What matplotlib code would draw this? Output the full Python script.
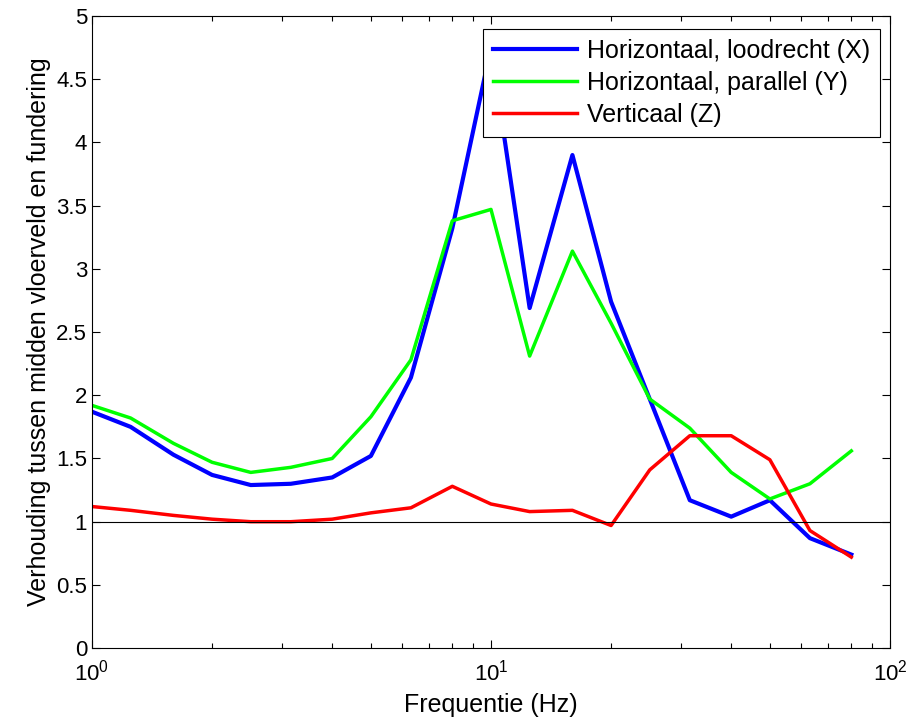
import numpy as np
import matplotlib
matplotlib.use("Agg")
from matplotlib import pyplot as plt

# 1/3-octave band centre frequencies (Hz)
freq = [1, 1.25, 1.6, 2, 2.5, 3.15, 4, 5, 6.3, 8, 10,
        12.5, 16, 20, 25, 31.5, 40, 50, 63, 80]

# ratio floor-field centre / foundation, per direction
ratio_x = [1.87, 1.75, 1.53, 1.37, 1.29, 1.30, 1.35, 1.52, 2.14, 3.32, 4.75,
           2.69, 3.90, 2.74, 1.97, 1.17, 1.04, 1.17, 0.87, 0.74]
ratio_y = [1.92, 1.82, 1.62, 1.47, 1.39, 1.43, 1.50, 1.83, 2.28, 3.38, 3.47,
           2.31, 3.14, 2.57, 1.97, 1.74, 1.39, 1.18, 1.30, 1.56]
ratio_z = [1.12, 1.09, 1.05, 1.02, 1.00, 1.00, 1.02, 1.07, 1.11, 1.28, 1.14,
           1.08, 1.09, 0.97, 1.41, 1.68, 1.68, 1.49, 0.93, 0.72]

labels = ["Horizontaal, loodrecht (X)", "Horizontaal, parallel (Y)", "Verticaal (Z)"]

plt.rcParams['font.family'] = ['Liberation Sans', 'DejaVu Sans']
plt.rcParams['mathtext.fontset'] = 'custom'
plt.rcParams['mathtext.rm'] = 'Liberation Sans'

fig = plt.figure(figsize=(9.16, 7.25), dpi=100)
ax = fig.add_axes([0.1004, 0.106, 0.8712, 0.872])

ax.plot(freq, ratio_x, color=(0, 0, 1), lw=3, label=labels[0])
ax.plot(freq, ratio_y, color=(0, 1, 0), lw=2.5, label=labels[1])
ax.plot(freq, ratio_z, color=(1, 0, 0), lw=2.5, label=labels[2])
ax.axhline(1, color='black', lw=0.8)

ax.set_xscale('log')
ax.set_xlim(1, 100)
ax.set_ylim(0, 5)
ax.set_yticks(np.arange(0, 5.01, 0.5))
ax.set_yticklabels(['0', '0.5', '1', '1.5', '2', '2.5', '3', '3.5', '4', '4.5', '5'])

ax.tick_params(which='both', direction='in', top=True, right=True, labelsize=16)
ax.tick_params(which='major', length=6, width=0.8)
ax.tick_params(which='minor', length=3.5, width=0.8)
ax.tick_params(axis='x', pad=8)
for s in ax.spines.values():
    s.set_linewidth(0.8)

ax.set_xlabel("Frequentie (Hz)", fontsize=18, labelpad=6)
ax.set_ylabel("Verhouding tussen midden vloerveld en fundering", fontsize=18, labelpad=4)

# legend sits on top of the X peak, like the original
leg = ax.legend(loc='upper right', bbox_to_anchor=(0.9875, 0.979), borderaxespad=0,
                fontsize=18, fancybox=False, framealpha=1, edgecolor='black',
                handlelength=3.35, labelspacing=0.32, handletextpad=0.4,
                borderpad=0.4)
leg.get_frame().set_linewidth(0.8)
leg.set_zorder(5)

fig.savefig("out.png", dpi=100)
